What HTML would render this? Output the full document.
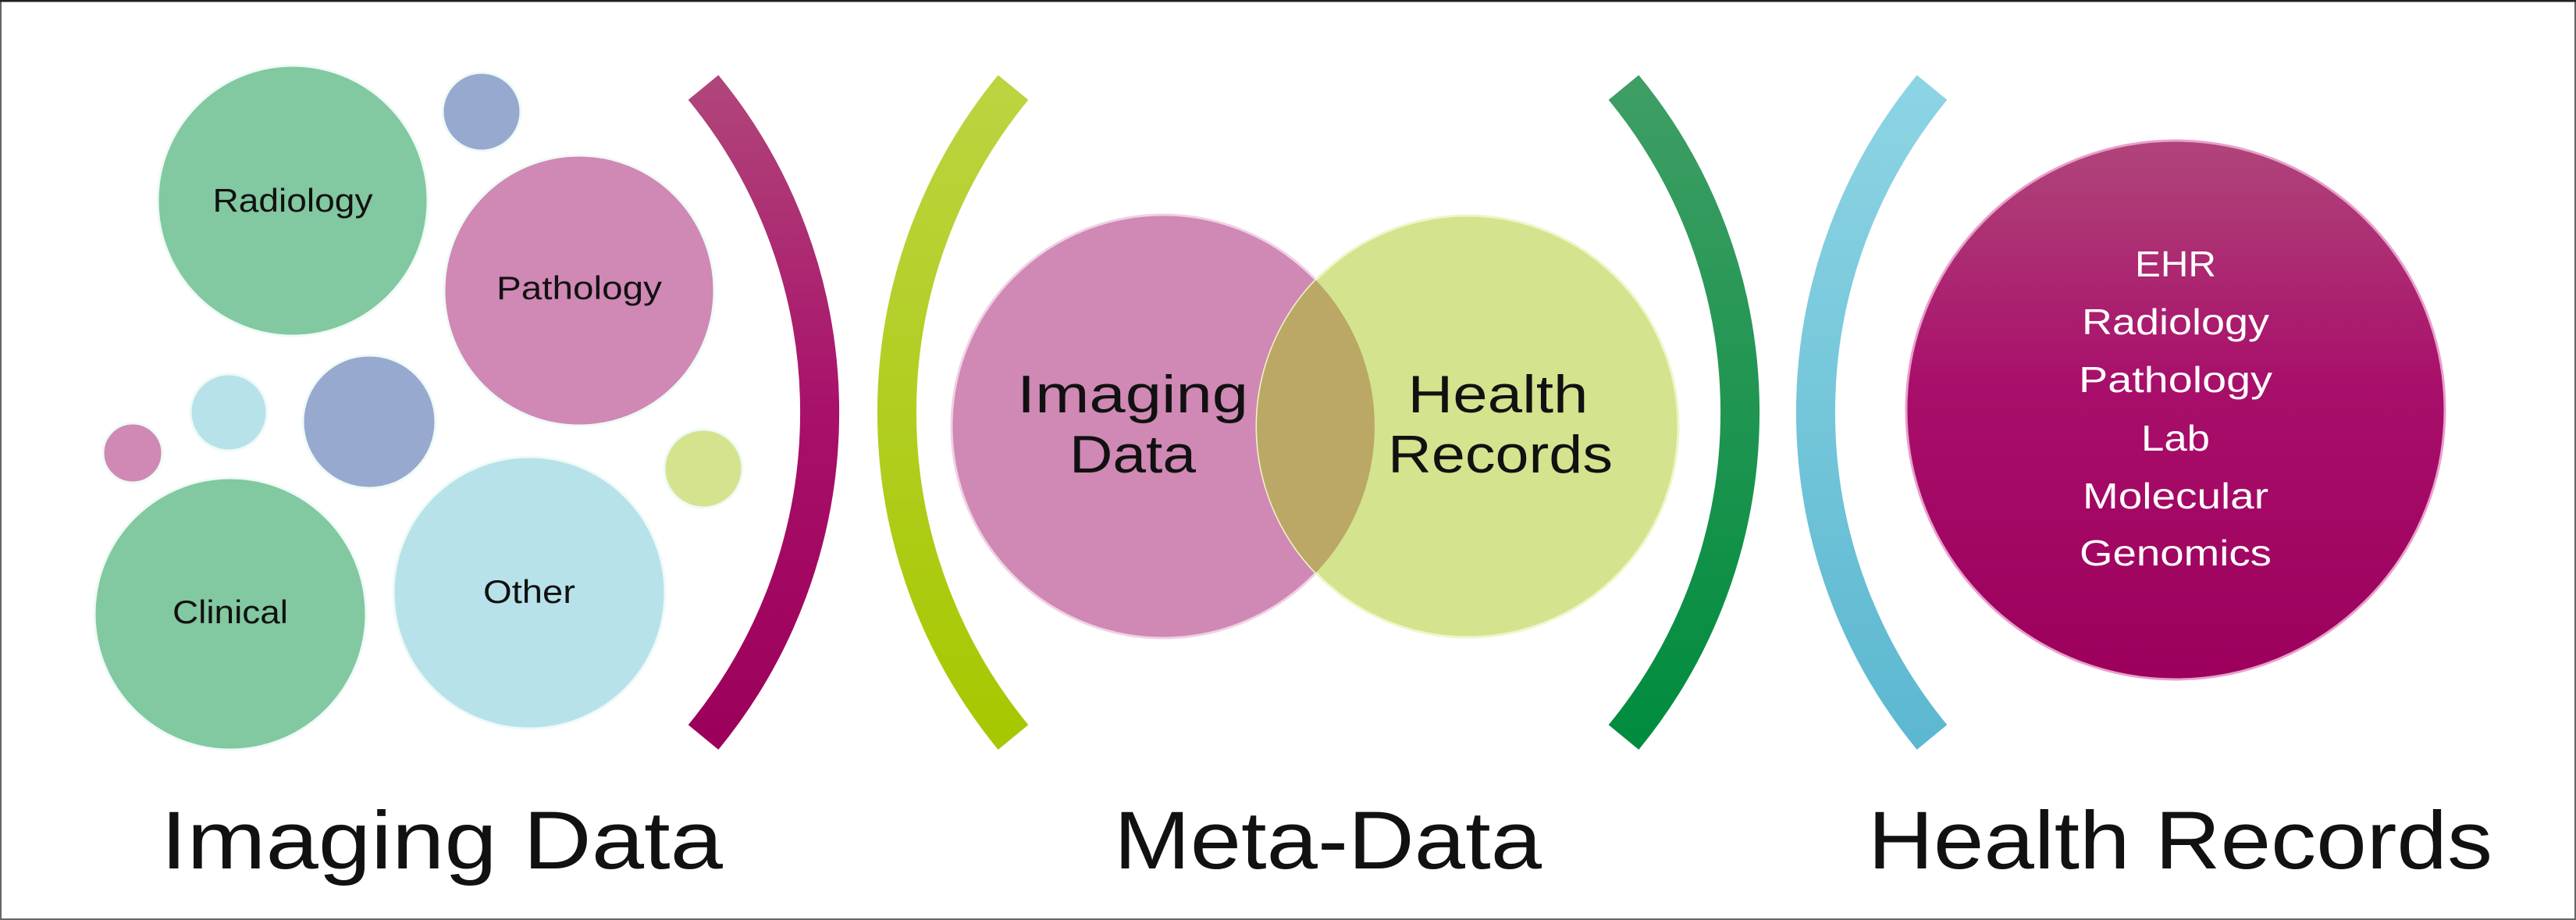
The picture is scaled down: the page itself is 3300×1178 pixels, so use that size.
<!DOCTYPE html>
<html><head><meta charset="utf-8"><style>
html,body{margin:0;padding:0;background:#fff;}
svg{display:block;}
</style></head><body>
<svg width="3300" height="1178" viewBox="0 0 3300 1178" xmlns="http://www.w3.org/2000/svg" font-family="Liberation Sans, sans-serif">
<defs>
<linearGradient id="gM" gradientUnits="userSpaceOnUse" x1="0" y1="110" x2="0" y2="945"><stop offset="0" stop-color="#b0457a"/><stop offset="0.5" stop-color="#a8106a"/><stop offset="1" stop-color="#9c005a"/></linearGradient>
<linearGradient id="gG" gradientUnits="userSpaceOnUse" x1="0" y1="110" x2="0" y2="945"><stop offset="0" stop-color="#3e9e64"/><stop offset="1" stop-color="#008c3e"/></linearGradient>
<linearGradient id="gY" gradientUnits="userSpaceOnUse" x1="0" y1="110" x2="0" y2="945"><stop offset="0" stop-color="#bcd440"/><stop offset="1" stop-color="#a6c800"/></linearGradient>
<linearGradient id="gC" gradientUnits="userSpaceOnUse" x1="0" y1="110" x2="0" y2="945"><stop offset="0" stop-color="#8cd4e4"/><stop offset="1" stop-color="#5cb8d0"/></linearGradient>
<linearGradient id="gBig" x1="0" y1="0" x2="0" y2="1"><stop offset="0" stop-color="#b0457a"/><stop offset="0.45" stop-color="#a80f6a"/><stop offset="1" stop-color="#9c005c"/></linearGradient>
<clipPath id="cp"><circle cx="1490" cy="546" r="271"/></clipPath>
</defs>
<rect x="1" y="1" width="3298" height="1176" fill="#fff" stroke="#666" stroke-width="2"/>
<line x1="0" y1="1" x2="3300" y2="1" stroke="#222" stroke-width="3"/>

<!-- left bubbles -->
<g stroke="#eefaf6" stroke-width="3">
<circle cx="375" cy="257" r="173" fill="#82c8a0"/>
<circle cx="617" cy="143" r="50" fill="#97a9cf"/>
<circle cx="742" cy="372" r="173" fill="#d088b4"/>
<circle cx="293" cy="528" r="49" fill="#b8e2ea"/>
<circle cx="473" cy="540" r="85" fill="#97a9cf"/>
<circle cx="170" cy="580" r="38" fill="#d088b4"/>
<circle cx="295" cy="786" r="174" fill="#82c8a0"/>
<circle cx="678" cy="759" r="174" fill="#b8e2ea"/>
<circle cx="901" cy="600" r="50" fill="#d6e38e"/>
</g>
<g font-size="42" fill="#111" text-anchor="middle">
<text x="375" y="271" textLength="205" lengthAdjust="spacingAndGlyphs">Radiology</text>
<text x="742" y="383" textLength="212" lengthAdjust="spacingAndGlyphs">Pathology</text>
<text x="295" y="798" textLength="148" lengthAdjust="spacingAndGlyphs">Clinical</text>
<text x="678" y="772" textLength="118" lengthAdjust="spacingAndGlyphs">Other</text>
</g>

<!-- brackets -->
<g fill="none" stroke-width="50" stroke-linecap="butt">
<path d="M901,112 A655,655 0 0 1 901,944" stroke="url(#gM)"/>
<path d="M1298,112 A655,655 0 0 0 1298,944" stroke="url(#gY)"/>
<path d="M2080,112 A655,655 0 0 1 2080,944" stroke="url(#gG)"/>
<path d="M2475,112 A655,655 0 0 0 2475,944" stroke="url(#gC)"/>
</g>

<!-- venn -->
<circle cx="1490" cy="546" r="271" fill="#d088b4" stroke="#f0d0e4" stroke-width="3"/>
<circle cx="1880" cy="546" r="270" fill="#d4e38e" stroke="#eef6c8" stroke-width="3"/>
<circle cx="1880" cy="546" r="270" fill="#bba866" clip-path="url(#cp)"/>
<g font-size="68" fill="#111" text-anchor="middle">
<text x="1451" y="528" textLength="296" lengthAdjust="spacingAndGlyphs">Imaging</text>
<text x="1451" y="605" textLength="162" lengthAdjust="spacingAndGlyphs">Data</text>
<text x="1919" y="528" textLength="231" lengthAdjust="spacingAndGlyphs">Health</text>
<text x="1922" y="605" textLength="288" lengthAdjust="spacingAndGlyphs">Records</text>
</g>

<!-- big circle -->
<circle cx="2787" cy="525" r="345" fill="url(#gBig)" stroke="#e8a0cc" stroke-width="3"/>
<g font-size="46" fill="#fff" text-anchor="middle">
<text x="2787" y="354" textLength="104" lengthAdjust="spacingAndGlyphs">EHR</text>
<text x="2787" y="428" textLength="240" lengthAdjust="spacingAndGlyphs">Radiology</text>
<text x="2787" y="502" textLength="248" lengthAdjust="spacingAndGlyphs">Pathology</text>
<text x="2787" y="577" textLength="88" lengthAdjust="spacingAndGlyphs">Lab</text>
<text x="2787" y="651" textLength="238" lengthAdjust="spacingAndGlyphs">Molecular</text>
<text x="2787" y="724" textLength="246" lengthAdjust="spacingAndGlyphs">Genomics</text>
</g>

<!-- bottom labels -->
<g font-size="105" fill="#111">
<text x="206" y="1112" textLength="720" lengthAdjust="spacingAndGlyphs">Imaging Data</text>
<text x="1427" y="1112" textLength="548" lengthAdjust="spacingAndGlyphs">Meta-Data</text>
<text x="2393" y="1112" textLength="800" lengthAdjust="spacingAndGlyphs">Health Records</text>
</g>
</svg>
</body></html>
